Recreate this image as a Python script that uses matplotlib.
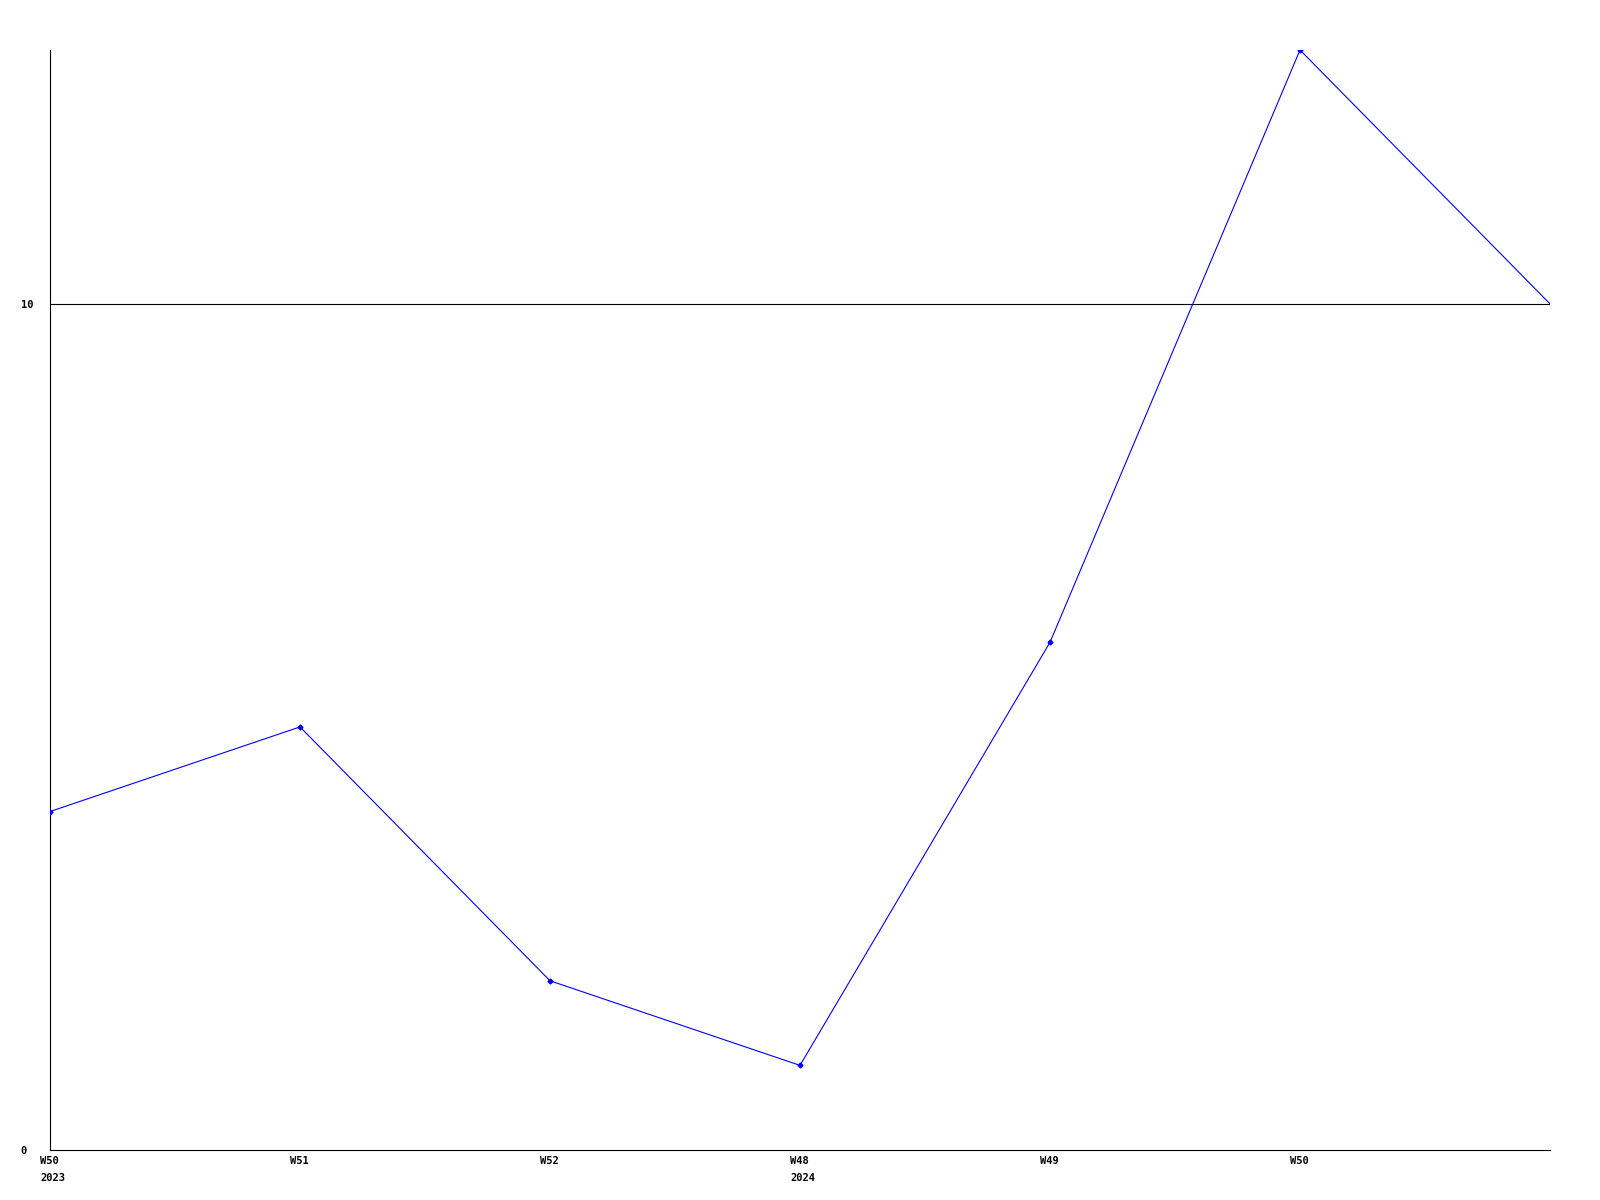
import matplotlib
matplotlib.use("Agg")
import matplotlib.pyplot as plt
import matplotlib.transforms as mtransforms

weeks = ["W50\n2023", "W51", "W52", "W48\n2024", "W49", "W50", ""]
values = [4, 5, 2, 1, 6, 13, 10]
yticks = [0, 10]

fig = plt.figure(figsize=(16, 12), dpi=100)
ax = fig.add_axes([50 / 1600, 50 / 1200, 1500 / 1600, 1100 / 1200])

x = list(range(len(values)))
ax.plot(x, values, color="#0000ff", linewidth=0.8, marker="D", markersize=2.5,
        markevery=list(range(len(values) - 1)), zorder=3)

ax.set_xlim(0, len(values) - 1)
ax.set_ylim(0, 13)

ax.axhline(10, color="black", linewidth=0.8, zorder=2)

ax.set_xticks(x)
ax.set_xticklabels(weeks, family="DejaVu Sans Mono", fontweight="bold",
                   fontsize=7.5, ha="left", multialignment="left", linespacing=1.9)
ax.set_yticks(yticks)
ax.set_yticklabels([str(v) for v in yticks], family="DejaVu Sans Mono",
                   fontweight="bold", fontsize=7.5, ha="left")

ax.tick_params(axis="x", length=0, pad=4)
# labels sit a little left of their tick
offset = mtransforms.ScaledTranslation(-10 / 100, 0, fig.dpi_scale_trans)
for lab in ax.get_xticklabels():
    lab.set_transform(lab.get_transform() + offset)
ax.tick_params(axis="y", length=0, pad=21)

for side in ["top", "right"]:
    ax.spines[side].set_visible(False)
for side in ["left", "bottom"]:
    ax.spines[side].set_color("black")
    ax.spines[side].set_linewidth(0.8)

fig.savefig("out.png", dpi=100)
